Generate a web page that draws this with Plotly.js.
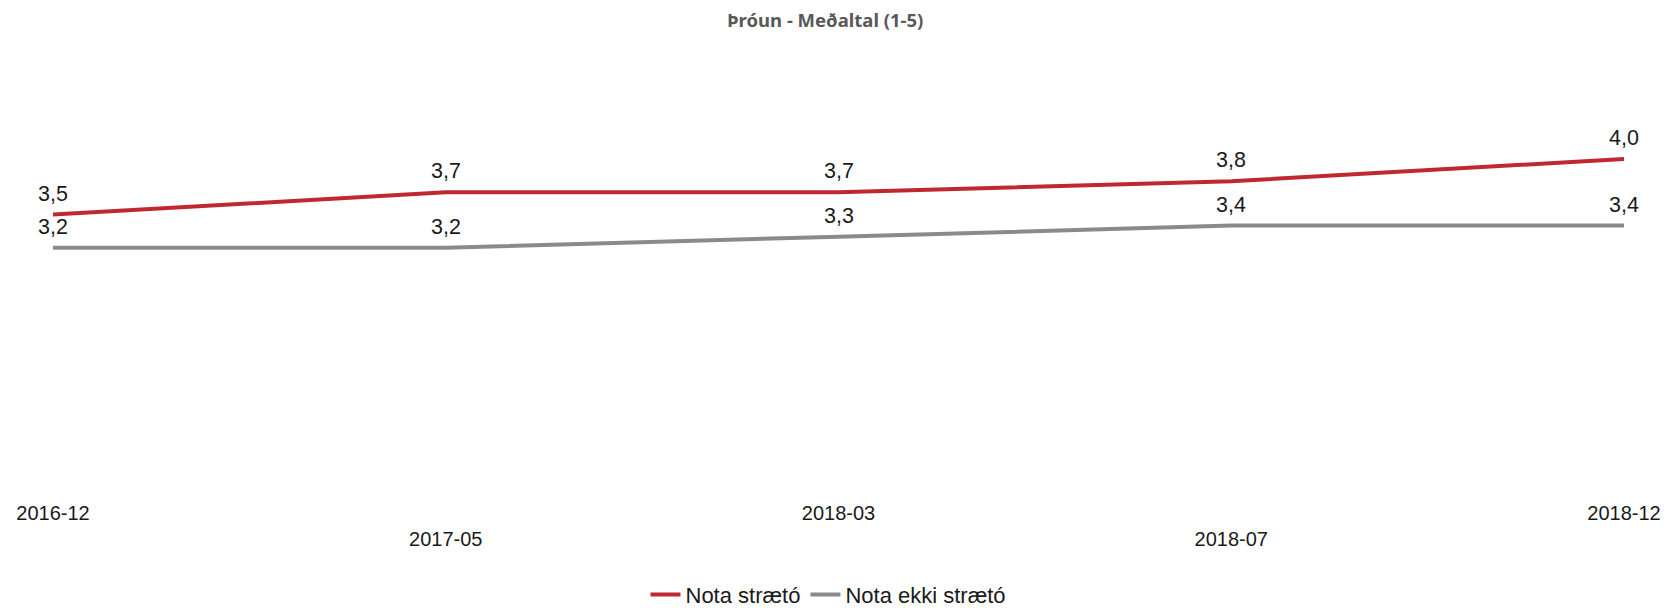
<!DOCTYPE html>
<html>
<head>
<meta charset="utf-8">
<script src="https://cdn.plot.ly/plotly-3.0.1.min.js"></script>
<style>html,body{margin:0;padding:0;background:#fff;}#chart{width:1667px;height:610px;}</style>
</head>
<body>
<div id="chart"></div>
<script>
const categories = ["2016-12", "2017-05", "2018-03", "2018-07", "2018-12"];
const notaStraeto = [3.5, 3.7, 3.7, 3.8, 4.0];
const notaEkkiStraeto = [3.2, 3.2, 3.3, 3.4, 3.4];
const seriesNames = ["Nota strætó", "Nota ekki strætó"];
const seriesColors = ["#BF2830", "#8A8A8A"];

const FONT = "Liberation Sans, Arial, sans-serif";
const fmt = v => v.toFixed(1).replace(".", ",");

const seriesValues = [notaStraeto, notaEkkiStraeto];
const traces = seriesValues.map((vals, i) => ({
  x: categories, y: vals, name: seriesNames[i], type: "scatter", mode: "lines",
  line: {color: seriesColors[i], width: 4}, cliponaxis: false, hoverinfo: "skip"
}));

const annotations = [];
seriesValues.forEach(vals => {
  vals.forEach((v, j) => {
    annotations.push({
      x: categories[j], y: v, xref: "x", yref: "y", text: fmt(v), showarrow: false,
      yshift: 21, yanchor: "middle", xanchor: "center",
      font: {family: FONT, size: 21.5, color: "#1a1a1a"}
    });
  });
});

// staggered tick labels: odd positions drop to a second row
const tickText = categories.map((c, i) => (i % 2 === 1 ? "<br>" + c : c));

const layout = {
  width: 1667, height: 610,
  paper_bgcolor: "#ffffff", plot_bgcolor: "#ffffff",
  margin: {l: 53, r: 43, t: 48, b: 118},
  title: {
    text: "Þróun - Meðaltal (1-5)",
    font: {family: "Noto Sans, sans-serif", size: 18.5, color: "#595959", weight: "bold"},
    x: 0.495, xref: "container", xanchor: "center", y: 0.966, yref: "container", yanchor: "middle"
  },
  xaxis: {
    type: "category", range: [0, 4], showgrid: false, zeroline: false, showline: false,
    tickmode: "array", tickvals: categories, ticktext: tickText,
    ticks: "", ticklabelstandoff: 7,
    tickfont: {family: FONT, size: 20, color: "#1a1a1a"}, fixedrange: true
  },
  yaxis: {range: [1, 5], visible: false, showgrid: false, zeroline: false, fixedrange: true},
  annotations: annotations,
  showlegend: true,
  legend: {
    orientation: "h", xref: "container", yref: "container", x: 0.497, xanchor: "center",
    y: 0.025, yanchor: "middle",
    font: {family: FONT, size: 22, color: "#1a1a1a"}
  }
};

Plotly.newPlot("chart", traces, layout, {displayModeBar: false, staticPlot: true});
</script>
</body>
</html>
